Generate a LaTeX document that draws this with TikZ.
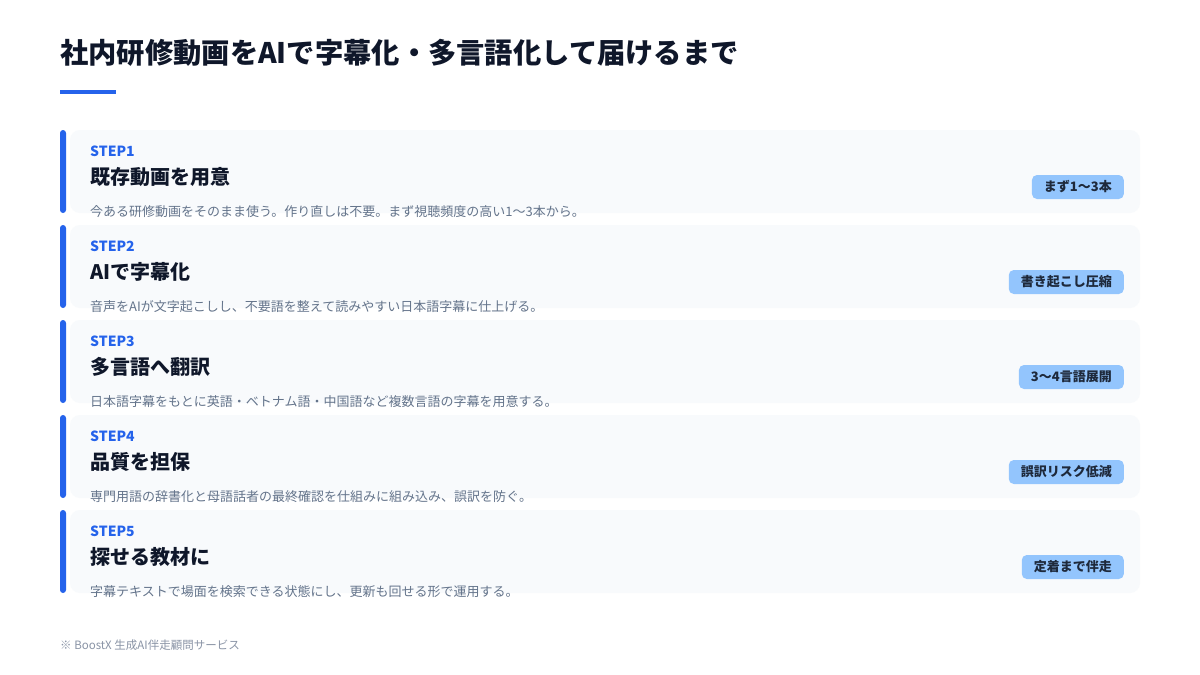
\documentclass[tikz,border=0pt]{standalone}
\usepackage{fontspec}
\setmainfont{Noto Sans CJK JP}
\definecolor{ink}{HTML}{0F172A}
\definecolor{accent}{HTML}{2563EB}
\definecolor{cardbg}{HTML}{F8FAFC}
\definecolor{desc}{HTML}{64748B}
\definecolor{badgebg}{HTML}{93C5FD}
\definecolor{badgeink}{HTML}{1E293B}
\definecolor{foot}{HTML}{8A94A6}
\tikzset{
  card/.style={fill=cardbg, draw=none, rounded corners=10pt},
  sidebar/.style={fill=accent, draw=none, rounded corners=3pt},
  steplabel/.style={anchor=west, inner sep=0pt, text=accent, font=\bfseries\fontsize{14}{16}\selectfont},
  headtext/.style={anchor=west, inner sep=0pt, text=ink, font=\bfseries\fontsize{20}{24}\selectfont},
  desctext/.style={anchor=west, inner sep=0pt, text=desc, font=\fontsize{13}{15}\selectfont},
  badge/.style={anchor=east, fill=badgebg, rounded corners=5pt, minimum height=24pt, inner xsep=12pt, inner ysep=0pt, text=badgeink, font=\bfseries\fontsize{13}{15}\selectfont},
}
\begin{document}
\begin{tikzpicture}[x=1pt,y=-1pt]
\useasboundingbox[fill=white] (0,0) rectangle (1200,675);
\node[anchor=west, inner sep=0pt, text=ink, font=\bfseries\fontsize{28.3}{33}\selectfont] (title) at (60,53) {社内研修動画をAIで字幕化・多言語化して届けるまで};
\fill[accent] (60,90) rectangle (116,94);
\foreach \i/\head/\dsc/\bdg in {
 1/既存動画を用意/今ある研修動画をそのまま使う。作り直しは不要。まず視聴頻度の高い1〜3本から。/まず1〜3本,
 2/AIで字幕化/音声をAIが文字起こしし、不要語を整えて読みやすい日本語字幕に仕上げる。/書き起こし圧縮,
 3/多言語へ翻訳/日本語字幕をもとに英語・ベトナム語・中国語など複数言語の字幕を用意する。/3〜4言語展開,
 4/品質を担保/専門用語の辞書化と母語話者の最終確認を仕組みに組み込み、誤訳を防ぐ。/誤訳リスク低減,
 5/探せる教材に/字幕テキストで場面を検索できる状態にし、更新も回せる形で運用する。/定着まで伴走}{
  \pgfmathsetmacro{\ty}{130+95*(\i-1)}
  \fill[card] (70,\ty) rectangle (1140,\ty+83);
  \fill[sidebar] (60,\ty) rectangle (66,\ty+83);
  \node[steplabel] (step\i) at (90,\ty+21) {STEP\i};
  \node[headtext] (head\i) at (90,\ty+47) {\head};
  \node[desctext] (desc\i) at (90,\ty+82) {\dsc};
  \node[badge] (badge\i) at (1124,\ty+57) {\bdg};
}
\node[anchor=west, inner sep=0pt, text=foot, font=\fontsize{11.5}{13}\selectfont] (footer) at (60,645) {※ BoostX 生成AI伴走顧問サービス};
\end{tikzpicture}
\end{document}
